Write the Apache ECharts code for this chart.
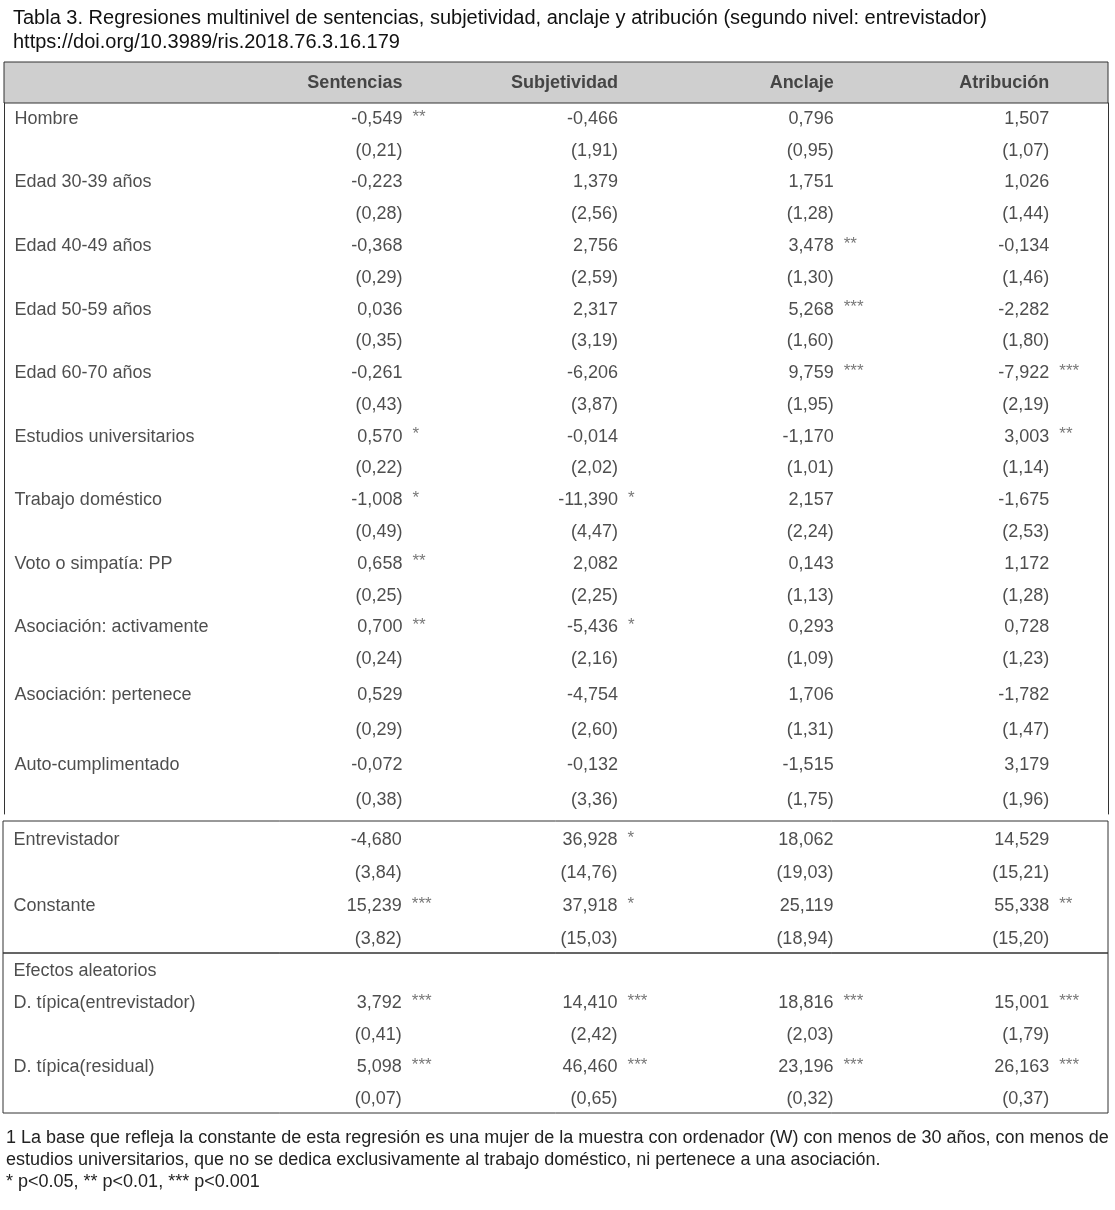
<!DOCTYPE html>
<html>
<head>
<meta charset="utf-8">
<title>Tabla 3</title>
<script src="https://cdn.jsdelivr.net/npm/echarts@6/dist/echarts.min.js"></script>
<style>
  html, body { margin: 0; padding: 0; background: #fff; }
  #chart { width: 1115px; height: 1210px; }
</style>
</head>
<body>
<div id="chart"></div>
<script>
// column headers
const columns = ['Sentencias', 'Subjetividad', 'Anclaje', 'Atribución'];

// row labels
const fixedVars = [
  'Hombre', 'Edad 30-39 años', 'Edad 40-49 años', 'Edad 50-59 años',
  'Edad 60-70 años', 'Estudios universitarios', 'Trabajo doméstico',
  'Voto o simpatía: PP', 'Asociación: activamente', 'Asociación: pertenece',
  'Auto-cumplimentado'
];
const levelTwoVars = ['Entrevistador', 'Constante'];
const randomTitle = 'Efectos aleatorios';
const randomVars = ['D. típica(entrevistador)', 'D. típica(residual)'];

// values in row order: 11 fixed, 2 level two, 2 random
const sentenciasCoef = [-0.549, -0.223, -0.368, 0.036, -0.261, 0.570, -1.008, 0.658, 0.700, 0.529, -0.072, -4.680, 15.239, 3.792, 5.098];
const sentenciasSE = [0.21, 0.28, 0.29, 0.35, 0.43, 0.22, 0.49, 0.25, 0.24, 0.29, 0.38, 3.84, 3.82, 0.41, 0.07];
const sentenciasSig = ['**', '', '', '', '', '*', '*', '**', '**', '', '', '', '***', '***', '***'];

const subjetividadCoef = [-0.466, 1.379, 2.756, 2.317, -6.206, -0.014, -11.390, 2.082, -5.436, -4.754, -0.132, 36.928, 37.918, 14.410, 46.460];
const subjetividadSE = [1.91, 2.56, 2.59, 3.19, 3.87, 2.02, 4.47, 2.25, 2.16, 2.60, 3.36, 14.76, 15.03, 2.42, 0.65];
const subjetividadSig = ['', '', '', '', '', '', '*', '', '*', '', '', '*', '*', '***', '***'];

const anclajeCoef = [0.796, 1.751, 3.478, 5.268, 9.759, -1.170, 2.157, 0.143, 0.293, 1.706, -1.515, 18.062, 25.119, 18.816, 23.196];
const anclajeSE = [0.95, 1.28, 1.30, 1.60, 1.95, 1.01, 2.24, 1.13, 1.09, 1.31, 1.75, 19.03, 18.94, 2.03, 0.32];
const anclajeSig = ['', '', '**', '***', '***', '', '', '', '', '', '', '', '', '***', '***'];

const atribucionCoef = [1.507, 1.026, -0.134, -2.282, -7.922, 3.003, -1.675, 1.172, 0.728, -1.782, 3.179, 14.529, 55.338, 15.001, 26.163];
const atribucionSE = [1.07, 1.44, 1.46, 1.80, 2.19, 1.14, 2.53, 1.28, 1.23, 1.47, 1.96, 15.21, 15.20, 1.79, 0.37];
const atribucionSig = ['', '', '', '', '***', '**', '', '', '', '', '', '', '**', '***', '***'];

const titleText = 'Tabla 3. Regresiones multinivel de sentencias, subjetividad, anclaje y atribución (segundo nivel: entrevistador)\nhttps://doi.org/10.3989/ris.2018.76.3.16.179';
const noteText = '1 La base que refleja la constante de esta regresión es una mujer de la muestra con ordenador (W) con menos de 30 años, con menos de\nestudios universitarios, que no se dedica exclusivamente al trabajo doméstico, ni pertenece a una asociación.\n* p<0.05, ** p<0.01, *** p<0.001';

const coefs = [sentenciasCoef, subjetividadCoef, anclajeCoef, atribucionCoef];
const ses = [sentenciasSE, subjetividadSE, anclajeSE, atribucionSE];
const sigs = [sentenciasSig, subjetividadSig, anclajeSig, atribucionSig];

// table blocks: which rows go in which box
const sections = [
  {vars: fixedVars.slice(0, 9), start: 0},
  {vars: fixedVars.slice(9), start: 9},
  {vars: levelTwoVars, start: 11},
  {vars: randomVars, start: 13, heading: randomTitle}
];

// layout of each block (pixels), frame: sides only or full box
const blockLayout = [
  {top: 103, height: 572, left: 4, frame: 'sides', shift: 0},
  {top: 675, height: 139, left: 4, frame: 'sides', shift: 3},
  {top: 821, height: 132, left: 3, frame: 'box', shift: 3},
  {top: 953, height: 160, left: 3, frame: 'box', shift: 2}
];

const FONT = 'Liberation Sans, Arial, sans-serif';
const TEXT = '#222';
const LINE = '#333';
const X_RANGE = {min: -0.85, max: 4.27};

const fmtCoef = (v) => v.toFixed(3).replace('.', ',');
const fmtSE = (v) => '(' + v.toFixed(2).replace('.', ',') + ')';

const hidden = {symbolSize: 1, itemStyle: {color: 'rgba(0,0,0,0)'}, silent: true};

const grids = [];
const xAxes = [];
const yAxes = [];
const series = [];

// header box
grids.push({left: 4, right: 7, top: 62, height: 41, show: true,
  backgroundColor: '#cfcfcf', borderColor: LINE, borderWidth: 1});
xAxes.push({type: 'value', gridIndex: 0, show: false, ...X_RANGE});
yAxes.push({type: 'category', gridIndex: 0, show: false, data: ['head']});
series.push({
  type: 'scatter', xAxisIndex: 0, yAxisIndex: 0, ...hidden,
  data: columns.map((c, j) => ({value: [j + 1, 0], name: c})),
  label: {show: true, position: 'left', distance: 0, formatter: '{b}',
    offset: [0, 1], fontFamily: FONT, fontSize: 18, fontWeight: 'bold',
    color: TEXT}
});

sections.forEach((s, k) => {
  const g = blockLayout[k];
  const gi = grids.length;
  const box = g.frame === 'box';
  grids.push({left: g.left, right: 7, top: g.top, height: g.height,
    show: box, borderColor: LINE, borderWidth: 1});
  xAxes.push({type: 'value', gridIndex: gi, show: false, ...X_RANGE});

  const rows = [];
  if (s.heading) rows.push(s.heading);
  const base = rows.length;
  s.vars.forEach((v) => rows.push(v, ''));

  const yi = yAxes.length;
  ['left', 'right'].forEach((pos) => {
    yAxes.push({
      type: 'category', gridIndex: gi, data: rows, inverse: true,
      position: pos, axisTick: {show: false}, axisLabel: {show: false},
      splitLine: {show: false},
      axisLine: {show: !box, onZero: false,
        lineStyle: {color: LINE, width: 1}}
    });
  });

  const labelData = rows.map((r, i) => ({value: [X_RANGE.min, i], name: r}))
    .filter((d) => d.name);
  const valueData = [];
  const starData = [];
  s.vars.forEach((v, i) => {
    const r = s.start + i;
    const y = base + 2 * i;
    columns.forEach((c, j) => {
      valueData.push({value: [j + 1, y], name: fmtCoef(coefs[j][r])});
      valueData.push({value: [j + 1, y + 1], name: fmtSE(ses[j][r])});
      if (sigs[j][r]) starData.push({value: [j + 1, y], name: sigs[j][r]});
    });
  });

  const textStyle = {fontFamily: FONT, fontSize: 18, color: TEXT};
  series.push({
    type: 'scatter', xAxisIndex: gi, yAxisIndex: yi, ...hidden, data: labelData,
    label: {show: true, position: 'right', distance: 10, formatter: '{b}',
      offset: [0, g.shift], ...textStyle}
  });
  series.push({
    type: 'scatter', xAxisIndex: gi, yAxisIndex: yi, ...hidden, data: valueData,
    label: {show: true, position: 'left', distance: 0, formatter: '{b}',
      offset: [0, g.shift], ...textStyle}
  });
  series.push({
    type: 'scatter', xAxisIndex: gi, yAxisIndex: yi, ...hidden, data: starData,
    label: {show: true, position: 'right', distance: 9, formatter: '{b}',
      offset: [0, g.shift - 2], fontFamily: FONT, fontSize: 17, color: '#555'}
  });
});

const chart = echarts.init(document.getElementById('chart'));
chart.setOption({
  animation: false,
  backgroundColor: '#fff',
  title: [
    {text: titleText, left: 13, top: 6, padding: 0,
      textStyle: {fontFamily: FONT, fontSize: 20, fontWeight: 'normal',
        color: '#111', lineHeight: 24}},
    {text: noteText, left: 6, top: 1127, padding: 0,
      textStyle: {fontFamily: FONT, fontSize: 18, fontWeight: 'normal',
        color: TEXT, lineHeight: 22}}
  ],
  grid: grids,
  xAxis: xAxes,
  yAxis: yAxes,
  series: series
});
</script>
</body>
</html>
